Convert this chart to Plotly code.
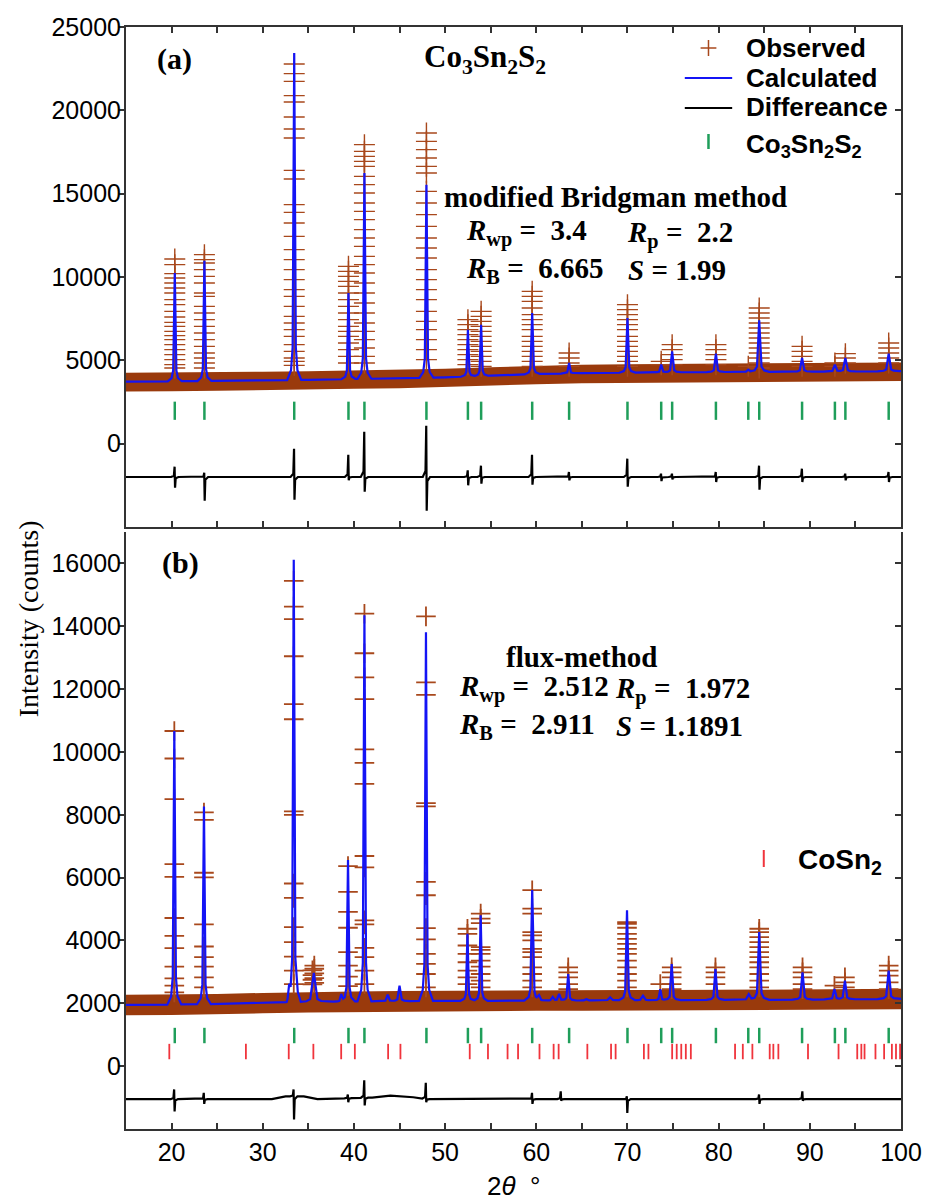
import numpy as np
import plotly.graph_objects as go

# ---------------- reflection positions (2θ, deg) ----------------
CO3SN2S2_REFL = [20.35, 23.6, 33.45, 39.4, 41.15, 47.95, 52.5, 53.95, 59.55, 63.6,
                 70.0, 73.7, 74.9, 79.7, 83.25, 84.45, 89.15, 92.75, 93.9, 98.65]
COSN2_REFL = [19.75, 28.15, 32.85, 35.55, 38.6, 40.1, 43.75, 45.1, 52.7, 54.7,
              56.85, 58.0, 60.35, 61.9, 62.45, 65.6, 68.2, 68.7, 71.8, 72.3,
              74.9, 75.4, 75.9, 76.4, 76.95, 81.8, 82.65, 83.7, 85.6, 86.0,
              86.55, 89.8, 93.15, 95.2, 95.65, 96.0, 97.2, 98.15, 99.0, 99.45, 99.9]

# ---------------- (a) modified Bridgman method ----------------
BG_X = [15, 20, 25, 30, 35, 40, 45, 50, 55, 60, 65, 70, 75, 80, 85, 90, 95, 100]
A_BG = [3720, 3740, 3770, 3800, 3830, 3880, 3920, 3980, 4080, 4180, 4230, 4260,
        4280, 4300, 4310, 4320, 4330, 4350]
A_OBS_HI = [4250, 4260, 4290, 4320, 4350, 4400, 4440, 4500, 4590, 4680, 4740, 4770,
            4800, 4820, 4830, 4840, 4850, 4870]
A_OBS_LO = [3130, 3150, 3180, 3210, 3240, 3290, 3330, 3390, 3480, 3570, 3630, 3660,
            3690, 3710, 3720, 3730, 3740, 3760]
A_CALC_TOP = [10240, 10980, 23440, 9040, 16240, 15540, 6840, 7140, 7840, 4840,
              7540, 4740, 5540, 5400, 4440, 7400, 5140, 4740, 5140, 5400]
A_PEAK_HALF = [0.35, 0.35, 0.35, 0.35, 0.35, 0.35, 0.35, 0.35, 0.38, 0.4,
               0.4, 0.45, 0.45, 0.45, 0.5, 0.5, 0.5, 0.55, 0.55, 0.55]
A_OBS_COLS = [
    (20.35, [11080, 10740, 10200, 9940, 9640, 9340, 9040, 8640, 8340, 7940, 7600, 7280,
             7040, 6740, 6480, 6240, 5940, 5640, 5340, 5040, 4740, 4540]),
    (23.6, [11340, 11040, 10840, 10440, 10040, 9640, 9040, 8840, 8240, 7840, 7440, 7040,
            6640, 6240, 5840, 5440, 5140, 4840, 4540]),
    (33.45, [22780, 22200, 21740, 20880, 20500, 19600, 18880, 18340, 16400, 15880, 14340,
             13880, 13240, 12440, 11640, 11040, 10440, 9840, 9240, 8840, 8240, 7640, 7240,
             6840, 6440, 5940, 5540, 5140, 4940, 4700]),
    (39.4, [10640, 10340, 10040, 9740, 9440, 9040, 8640, 8240, 7840, 7440, 7040, 6740,
            6440, 6040, 5640, 5240, 4840]),
    (41.15, [17940, 17540, 17240, 16940, 16640, 16040, 15540, 15040, 14440, 13940, 13440,
             12840, 12340, 11840, 11240, 10740, 10240, 9640, 9040, 8440, 7840, 7240, 6740,
             6240, 5740, 5240, 4840]),
    (47.95, [18640, 18140, 17640, 17140, 16640, 16240, 15140, 14440, 13740, 13040, 12340,
             11740, 11140, 10440, 9840, 9240, 8640, 7940, 7340, 6840, 6240, 5640, 5040]),
    (52.5, [7440, 7140, 6840, 6540, 6240, 5940, 5640, 5340, 5040, 4740]),
    (53.95, [7940, 7640, 7340, 7040, 6740, 6440, 6140, 5840, 5540, 5240, 4940, 4640]),
    (59.55, [9140, 8840, 8540, 8140, 7740, 7440, 7140, 6840, 6440, 6140, 5840, 5540,
             5240, 4940, 4640]),
    (63.6, [5440, 5140, 4840, 4640]),
    (70.0, [8340, 8040, 7740, 7440, 7140, 6840, 6440, 6140, 5840, 5540, 5240, 4940, 4640]),
    (73.7, [4940, 4740]),
    (74.9, [5940, 5640, 5340, 5040, 4740]),
    (79.7, [5940, 5640, 5340, 5040, 4740]),
    (83.25, [4640]),
    (84.45, [8140, 7840, 7540, 7240, 6940, 6640, 6340, 6040, 5740, 5440, 5140, 4840, 4540]),
    (89.15, [5840, 5540, 5240, 4940, 4640]),
    (92.75, [4840, 4640]),
    (93.9, [5400, 5140, 4840]),
    (98.65, [6040, 5740, 5440, 5140, 4840]),
]
A_DIFF_X = [15, 100]
A_DIFF = [-2000, -2000]
A_DIFF_POS = [20.35, 23.6, 33.45, 39.4, 41.15, 47.95, 52.5, 53.95, 59.55, 63.6, 70.0,
              73.7, 74.9, 79.7, 84.45, 89.15, 93.9, 98.65]
A_DIFF_UP = [-1380, -1740, -300, -660, 720, 1080, -1600, -1320, -660, -1700, -900,
             -1800, -1800, -1700, -1320, -1500, -1800, -1700]
A_DIFF_DOWN = [-2640, -3420, -3360, -2200, -2880, -4020, -2500, -2400, -2460, -2200,
               -2580, -2250, -2150, -2300, -2760, -2300, -2200, -2300]

# ---------------- (b) flux method ----------------
B_BG = [1950, 1960, 1980, 2010, 2040, 2060, 2070, 2080, 2080, 2090, 2090, 2100,
        2100, 2110, 2110, 2120, 2130, 2140]
B_OBS_HI = [2270, 2280, 2300, 2330, 2360, 2380, 2390, 2400, 2400, 2410, 2410, 2420,
            2420, 2430, 2430, 2440, 2450, 2460]
B_OBS_LO = [1620, 1630, 1650, 1680, 1710, 1730, 1740, 1750, 1750, 1760, 1760, 1770,
            1770, 1780, 1780, 1790, 1800, 1810]
B_PEAK_POS = [20.3, 23.55, 32.9, 33.4, 35.6, 38.6, 39.35, 41.15, 43.7, 45.0, 47.9,
              52.45, 53.9, 59.55, 60.3, 61.8, 62.5, 63.5, 65.5, 68.1, 69.95, 71.7,
              73.6, 74.85, 79.65, 83.3, 84.45, 89.2, 92.7, 93.85, 98.65]
B_CALC_TOP = [10667, 8267, 2350, 16107, 2965, 2293, 6560, 14350, 2272, 2560, 13813,
              4213, 4800, 5600, 2240, 2200, 2300, 2933, 2130, 2190, 4960, 2240,
              2453, 3253, 3093, 2293, 4267, 2987, 2453, 2720, 3040]
B_PEAK_HALF = [0.35, 0.35, 0.35, 0.35, 0.8, 0.4, 0.35, 0.35, 0.5, 0.5, 0.35,
               0.35, 0.35, 0.4, 0.5, 0.5, 0.5, 0.4, 0.6, 0.6, 0.4, 0.6,
               0.4, 0.45, 0.45, 0.6, 0.5, 0.5, 0.5, 0.5, 0.55]
B_OBS_COLS = [
    (20.3, [10667, 9792, 8501, 6432, 6027, 4715, 4149, 3755, 3168, 2795, 2560, 2347]),
    (23.55, [8075, 7840, 6155, 6005, 4512, 3808, 3467, 3168, 2827, 2507]),
    (33.4, [15445, 14624, 14229, 13045, 11520, 11040, 8107, 8000, 5813, 5355, 4427,
            3947, 3488, 3040, 2613]),
    (35.45, [3050, 2900, 2750, 2600]),
    (35.65, [3200, 3100, 2950, 2800, 2650]),
    (39.35, [6368, 5547, 4907, 4405, 3627, 3200, 2850, 2550]),
    (41.15, [14400, 13141, 12373, 11680, 10080, 9653, 8981, 6688, 6325, 4640, 4512,
             3765, 3467, 3040, 2613]),
    (47.9, [14315, 12213, 11819, 8373, 8267, 5867, 5440, 4395, 4032, 3573, 3253,
            2933, 2507]),
    (52.45, [4373, 4213, 3840, 3573, 3307, 3040, 2827, 2613]),
    (53.9, [4853, 4693, 4555, 3787, 3701, 3573, 3360, 3168, 2933, 2720, 2507]),
    (59.55, [5600, 5013, 4853, 4267, 4160, 4000, 3733, 3627, 3467, 3147, 2933, 2720, 2507]),
    (63.5, [3147, 2987, 2827, 2613, 2453]),
    (69.95, [4587, 4533, 4405, 4213, 4053, 3893, 3733, 3573, 3360, 3147, 2933, 2720, 2507]),
    (73.6, [2613]),
    (74.85, [3147, 2987, 2827, 2613, 2453]),
    (79.65, [3147, 2987, 2827, 2613]),
    (84.45, [4373, 4267, 4107, 3947, 3787, 3627, 3467, 3307, 3147, 2933, 2720, 2507]),
    (89.2, [3147, 2987, 2827, 2613, 2453]),
    (92.7, [2560]),
    (93.85, [2827, 2667, 2507]),
    (98.65, [3200, 3040, 2880, 2667, 2453]),
]
B_DIFF_X = [15, 31, 32.5, 34.5, 36, 42, 44, 46.5, 48, 100]
B_DIFF = [-1050, -1050, -960, -960, -1050, -1000, -940, -990, -1050, -1050]
B_DIFF_POS = [20.3, 23.55, 33.4, 39.35, 41.15, 47.9, 59.55, 62.7, 69.95, 84.45, 89.2]
B_DIFF_UP = [-740, -850, -740, -900, -450, -530, -850, -800, -960, -900, -800]
B_DIFF_DOWN = [-1440, -1200, -1700, -1150, -1250, -1150, -1200, -1100, -1490, -1200, -1100]

# ---------------- styling ----------------
SERIF = "Liberation Serif"
SANS = "Liberation Sans"
BROWN_BAND = "#9a3a0c"
BROWN_MARK = "#a8481c"
BLUE = "rgb(20,20,245)"
GREEN = "#1f9e5a"
RED = "#f0343c"
AXIS = "#333333"

W, H = 934, 1202
ML, MR, MT, MB = 126, 23, 27, 73
PW, PH = W - ML - MR, H - MT - MB

# relative shape of one reflection (offsets in half-widths, fraction of height)
SHAPE_DX = np.array([-2.2, -1.0, -0.5, 0.0, 0.5, 1.0, 2.2])
SHAPE_F = np.array([0.0, 0.03, 0.1, 1.0, 0.1, 0.03, 0.0])
DIFF_DX = np.array([-0.4, -0.1, -0.02, 0.03, 0.1, 0.4])


def calc_profile(bg_x, bg_y, pos, top, half):
    grid = list(bg_x)
    for p, h in zip(pos, half):
        grid.extend(p + SHAPE_DX * h)
    grid = np.unique(np.asarray(grid, dtype=float))
    y = np.interp(grid, bg_x, bg_y)
    for p, t, h in zip(pos, top, half):
        amp = t - np.interp(p, bg_x, bg_y)
        y = y + np.interp(grid, p + SHAPE_DX * h, SHAPE_F * amp, left=0, right=0)
    return grid, y


def diff_profile(base_x, base_y, pos, up, down):
    grid = list(base_x)
    for p in pos:
        grid.extend(p + DIFF_DX)
    grid = np.unique(np.asarray(grid, dtype=float))
    y = np.interp(grid, base_x, base_y)
    for p, u, d in zip(pos, up, down):
        b = np.interp(p, base_x, base_y)
        vy = np.array([0, 0.12 * (u - b), u - b, d - b, 0.12 * (d - b), 0])
        y = y + np.interp(grid, p + DIFF_DX, vy, left=0, right=0)
    return grid, y


def obs_points(cols):
    xs, ys = [], []
    for p, vals in cols:
        xs.extend([p] * len(vals))
        ys.extend(vals)
    return xs, ys


fig = go.Figure()


def add_panel(xa, ya, bg, hi, lo, cols, cpos, ctop, chalf, dx, dy, dpos, dup, ddown,
              mark_size, mark_width):
    fig.add_trace(go.Scatter(
        x=BG_X + BG_X[::-1], y=hi + lo[::-1], fill="toself", fillcolor=BROWN_BAND,
        line=dict(width=0), mode="lines", hoverinfo="skip", showlegend=False,
        xaxis=xa, yaxis=ya))
    ox, oy = obs_points(cols)
    fig.add_trace(go.Scatter(
        x=ox, y=oy, mode="markers", name="Observed", showlegend=False,
        marker=dict(symbol="cross-thin", size=mark_size,
                    line=dict(color=BROWN_MARK, width=mark_width)),
        xaxis=xa, yaxis=ya))
    gx, gy = calc_profile(BG_X, bg, cpos, ctop, chalf)
    fig.add_trace(go.Scatter(
        x=gx, y=gy, mode="lines", name="Calculated", showlegend=False,
        line=dict(color=BLUE, width=2.2), xaxis=xa, yaxis=ya))
    qx, qy = diff_profile(dx, dy, dpos, dup, ddown)
    fig.add_trace(go.Scatter(
        x=qx, y=qy, mode="lines", name="Differeance", showlegend=False,
        line=dict(color="black", width=2.2), xaxis=xa, yaxis=ya))


add_panel("x", "y", A_BG, A_OBS_HI, A_OBS_LO, A_OBS_COLS, CO3SN2S2_REFL, A_CALC_TOP,
          A_PEAK_HALF, A_DIFF_X, A_DIFF, A_DIFF_POS, A_DIFF_UP, A_DIFF_DOWN, 15, 1.4)
fig.add_trace(go.Scatter(
    x=CO3SN2S2_REFL, y=[1975] * len(CO3SN2S2_REFL), mode="markers", showlegend=False,
    marker=dict(symbol="line-ns", size=13, line=dict(color=GREEN, width=2.5)),
    xaxis="x", yaxis="y"))

add_panel("x2", "y2", B_BG, B_OBS_HI, B_OBS_LO, B_OBS_COLS, B_PEAK_POS, B_CALC_TOP,
          B_PEAK_HALF, B_DIFF_X, B_DIFF, B_DIFF_POS, B_DIFF_UP, B_DIFF_DOWN, 14, 1.8)
fig.add_trace(go.Scatter(
    x=CO3SN2S2_REFL, y=[975] * len(CO3SN2S2_REFL), mode="markers", showlegend=False,
    marker=dict(symbol="line-ns", size=11, line=dict(color=GREEN, width=2.5)),
    xaxis="x2", yaxis="y2"))
fig.add_trace(go.Scatter(
    x=COSN2_REFL, y=[465] * len(COSN2_REFL), mode="markers", showlegend=False,
    marker=dict(symbol="line-ns", size=11, line=dict(color=RED, width=1.8)),
    xaxis="x2", yaxis="y2"))

# keep the right-hand tick axes on the page
fig.add_trace(go.Scatter(x=[None], y=[None], xaxis="x", yaxis="y3",
                         showlegend=False, hoverinfo="skip"))
fig.add_trace(go.Scatter(x=[None], y=[None], xaxis="x2", yaxis="y4",
                         showlegend=False, hoverinfo="skip"))

tickfont = dict(family=SANS, size=25, color="black")
axis_common = dict(showline=True, linecolor=AXIS, linewidth=2, tickcolor=AXIS,
                   tickwidth=2, showgrid=False, zeroline=False,
                   tickfont=tickfont, tickformat="d")
x_minor = dict(dtick=5, tick0=0, ticks="inside", ticklen=6, tickcolor=AXIS, tickwidth=2)
right_ticks = dict(side="right", ticks="inside", showticklabels=False, showline=False,
                   showgrid=False, zeroline=False, tickcolor=AXIS, tickwidth=2, ticklen=6)

A_YTICKS = [0, 5000, 10000, 15000, 20000, 25000]
B_YTICKS = [0, 2000, 4000, 6000, 8000, 10000, 12000, 14000, 16000]
X_TICKS = [20, 30, 40, 50, 60, 70, 80, 90, 100]

TOP_DOMAIN = [(H - MB - 527) / PH, 1.0]
BOTTOM_DOMAIN = [0.0, (H - MB - 532) / PH]

fig.update_layout(
    width=W, height=H,
    margin=dict(l=ML, r=MR, t=MT, b=MB),
    paper_bgcolor="white", plot_bgcolor="white",
    showlegend=False,
    xaxis=dict(domain=[0, 1], anchor="y", range=[15, 100], tickvals=X_TICKS,
               ticks="inside", ticklen=6, mirror="ticks", showticklabels=False,
               minor=x_minor, **axis_common),
    yaxis=dict(domain=TOP_DOMAIN, anchor="x", range=[-5000, 25000], tickvals=A_YTICKS,
               ticks="outside", ticklen=5, mirror=True, ticklabelstandoff=-7,
               **axis_common),
    yaxis3=dict(overlaying="y", anchor="x", range=[-5000, 25000], tickvals=A_YTICKS,
                **right_ticks),
    xaxis2=dict(domain=[0, 1], anchor="y2", matches="x", range=[15, 100],
                tickvals=X_TICKS, ticks="inside", ticklen=6, minor=x_minor,
                **axis_common),
    yaxis2=dict(domain=BOTTOM_DOMAIN, anchor="x2", range=[-2000, 17000],
                tickvals=B_YTICKS, ticks="outside", ticklen=5, mirror=True,
                ticklabelstandoff=-7, **axis_common),
    yaxis4=dict(overlaying="y2", anchor="x2", range=[-2000, 17000], tickvals=B_YTICKS,
                **right_ticks),
)


def px_x(px):
    return (px - ML) / PW


def px_y(py):
    return (H - MB - py) / PH


serif_bold = dict(family=SERIF, size=29, color="black")
sans_bold = dict(family=SANS, size=26, color="black")


def note(text, x, y, xref, yref, anchor="left", font=serif_bold):
    fig.add_annotation(text=text, x=x, y=y, xref=xref, yref=yref, xanchor=anchor,
                       yanchor="middle", align="left", showarrow=False, font=font)


def seg(x0, y0, x1, y1, color, width):
    fig.add_shape(type="line", xref="paper", yref="paper",
                  x0=px_x(x0), y0=px_y(y0), x1=px_x(x1), y1=px_y(y1),
                  line=dict(color=color, width=width))


# key for panel (a)
seg(708, 48, 724, 48, BROWN_MARK, 1.5)
seg(716, 40, 716, 56, BROWN_MARK, 1.5)
seg(692, 78, 740, 78, BLUE, 2.2)
seg(692, 108, 740, 108, "black", 2.2)
seg(716, 134, 716, 149, GREEN, 2.5)
note("<b>Observed</b>", px_x(752), px_y(48), "paper", "paper", font=sans_bold)
note("<b>Calculated</b>", px_x(752), px_y(78), "paper", "paper", font=sans_bold)
note("<b>Differeance</b>", px_x(752), px_y(107), "paper", "paper", font=sans_bold)
note("<b>Co<sub>3</sub>Sn<sub>2</sub>S<sub>2</sub></b>", px_x(752), px_y(146),
     "paper", "paper", font=sans_bold)

# key for panel (b)
seg(772, 850, 772, 867, RED, 2)
note("<b>CoSn<sub>2</sub></b>", px_x(805), px_y(861), "paper", "paper",
     font=dict(family=SANS, size=28, color="black"))

# panel (a) texts
note("<b>(a)</b>", 20.3, 23100, "x", "y", "center", dict(family=SERIF, size=30, color="black"))
note("<b>Co<sub>3</sub>Sn<sub>2</sub>S<sub>2</sub></b>", 54.35, 23100, "x", "y", "center",
     dict(family=SERIF, size=31, color="black"))
note("<b>modified Bridgman method</b>", 49.7, 14820, "x", "y")
note("<b><i>R</i><sub>wp</sub> =  3.4<br><i>R</i><sub>B</sub> =  6.665</b>",
     52.05, 11550, "x", "y")
note("<b><i>R</i><sub>p</sub> =  2.2<br><i>S</i> = 1.99</b>", 69.7, 11550, "x", "y")

# panel (b) texts
note("<b>(b)</b>", 20.95, 16000, "x2", "y2", "center", dict(family=SERIF, size=30, color="black"))
note("<b>flux-method</b>", 64.95, 13024, "x2", "y2", "center")
note("<b><i>R</i><sub>wp</sub> =  2.512<br><i>R</i><sub>B</sub> =  2.911</b>",
     51.3, 11420, "x2", "y2")
note("<b><i>R</i><sub>p</sub> =  1.972<br><i>S</i> = 1.1891</b>", 68.4, 11420, "x2", "y2")

# axis titles
fig.add_annotation(text="Intensity (counts)", x=px_x(27), y=px_y(619), xref="paper",
                   yref="paper", textangle=-90, showarrow=False, xanchor="center",
                   yanchor="middle", font=dict(family=SERIF, size=28, color="black"))
fig.add_annotation(text="2<i>θ</i>  °", x=px_x(518), y=px_y(1186), xref="paper",
                   yref="paper", showarrow=False, xanchor="center", yanchor="middle",
                   font=dict(family=SANS, size=26, color="black"))

fig.write_html("out.html")
